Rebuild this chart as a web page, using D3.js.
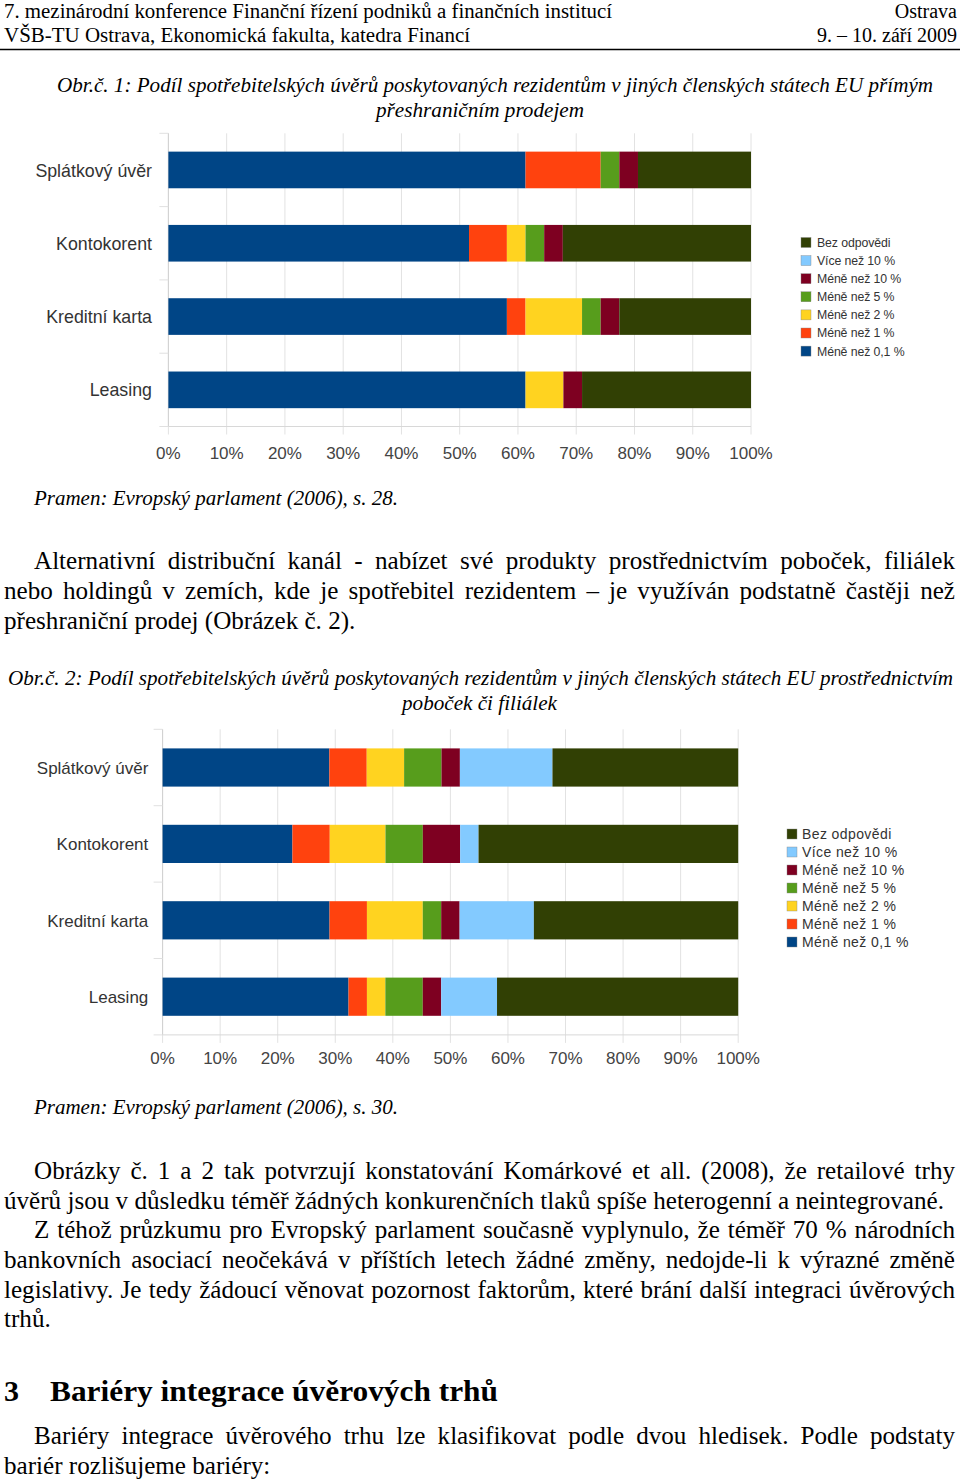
<!DOCTYPE html>
<html><head><meta charset="utf-8">
<script src="https://cdn.jsdelivr.net/npm/d3@7"></script>
<style>body{margin:0;background:#fff} svg{display:block}</style>
</head><body>
<svg id="page" width="960" height="1480"></svg>
<script>
// ---------- DATA ----------
const categories = ["Splátkový úvěr", "Kontokorent", "Kreditní karta", "Leasing"];
const seriesKeys = ["m01", "m1", "m2", "m5", "m10", "v10", "bez"];
const seriesLabels = ["Méně než 0,1 %", "Méně než 1 %", "Méně než 2 %", "Méně než 5 %", "Méně než 10 %", "Více než 10 %", "Bez odpovědi"];
const seriesColors = ["#004586", "#ff420e", "#ffd320", "#579d1c", "#7e0021", "#83caff", "#314004"];
const tickValues = [0, 10, 20, 30, 40, 50, 60, 70, 80, 90, 100];
const tickLabels = ["0%", "10%", "20%", "30%", "40%", "50%", "60%", "70%", "80%", "90%", "100%"];

// Obr. 1 – přímý přeshraniční prodej (%)
const fig1_m01 = [61.3, 51.6, 58.1, 61.3];
const fig1_m1  = [12.9, 6.5, 3.2, 0];
const fig1_m2  = [0, 3.2, 9.7, 6.5];
const fig1_m5  = [3.2, 3.2, 3.2, 0];
const fig1_m10 = [3.2, 3.2, 3.2, 3.2];
const fig1_v10 = [0, 0, 0, 0];
const fig1_bez = [19.4, 32.3, 22.6, 29.0];

// Obr. 2 – pobočky či filiálky (%)
const fig2_m01 = [29.0, 22.6, 29.0, 32.3];
const fig2_m1  = [6.5, 6.5, 6.5, 3.2];
const fig2_m2  = [6.5, 9.7, 9.7, 3.2];
const fig2_m5  = [6.5, 6.5, 3.2, 6.5];
const fig2_m10 = [3.2, 6.5, 3.2, 3.2];
const fig2_v10 = [16.1, 3.2, 12.9, 9.7];
const fig2_bez = [32.3, 45.2, 35.5, 41.9];

// ---------- HELPERS ----------
const svg = d3.select("#page");
const SERIF = "'Liberation Serif','Times New Roman',serif";
const SANS = "'Liberation Sans',Arial,sans-serif";

function rowsFrom(arrs) {
  return categories.map((c, i) => {
    const r = { cat: c };
    seriesKeys.forEach((k, j) => r[k] = arrs[j][i]);
    return r;
  });
}

function measure(str, size, style, weight) {
  const tmp = svg.append("text").attr("font-family", SERIF).attr("font-size", size)
    .attr("font-style", style || "normal").attr("font-weight", weight || "normal").text(str);
  const w = tmp.node().getComputedTextLength();
  tmp.remove();
  return w;
}

function plainText(str, o) {
  const t = svg.append("text")
    .attr("x", o.x).attr("y", o.y)
    .attr("font-family", o.family || SERIF)
    .attr("font-size", o.size)
    .attr("font-style", o.style || "normal")
    .attr("font-weight", o.weight || "normal")
    .attr("text-anchor", o.anchor || "start")
    .attr("fill", o.fill || "#000")
    .text(str);
  if (o.len) t.attr("textLength", o.len).attr("lengthAdjust", "spacingAndGlyphs");
  return t;
}

function justified(str, x0, x1, y, size) {
  const words = str.split(" ");
  const widths = words.map(w => measure(w, size));
  const gap = (x1 - x0 - d3.sum(widths)) / (words.length - 1);
  const t = svg.append("text").attr("y", y).attr("font-family", SERIF).attr("font-size", size).attr("fill", "#000");
  let x = x0;
  words.forEach((w, i) => { t.append("tspan").attr("x", x).text(w); x += widths[i] + gap; });
}

function drawChart(rows, cfg) {
  const g = svg.append("g");
  const x = d3.scaleLinear().domain([0, 1]).range([cfg.x0, cfg.x1]);
  const xp = d3.scaleLinear().domain([0, 100]).range([cfg.x0, cfg.x1]);
  const y = d3.scaleBand().domain(categories).range([cfg.y0, cfg.y1]).paddingInner(0.5).paddingOuter(0.25);
  const stack = d3.stack().keys(seriesKeys).offset(d3.stackOffsetExpand);
  const series = stack(rows);

  g.append("g").selectAll("line").data(tickValues).join("line")
    .attr("x1", d => xp(d)).attr("x2", d => xp(d))
    .attr("y1", cfg.y0).attr("y2", cfg.y1 + 8)
    .attr("stroke", "#e2e2e2").attr("stroke-width", 1);
  g.append("line").attr("x1", cfg.x0).attr("x2", cfg.x0).attr("y1", cfg.y0).attr("y2", cfg.y1)
    .attr("stroke", "#d0d0d0");
  g.append("line").attr("x1", cfg.x0).attr("x2", cfg.x1).attr("y1", cfg.y1).attr("y2", cfg.y1)
    .attr("stroke", "#d8d8d8");
  const bounds = d3.range(categories.length + 1).map(i => cfg.y0 + i * y.step());
  g.append("g").selectAll("line").data(bounds).join("line")
    .attr("x1", cfg.x0 - 9).attr("x2", cfg.x0)
    .attr("y1", d => d).attr("y2", d => d)
    .attr("stroke", "#e0e0e0");

  g.append("g").selectAll("g").data(series).join("g")
    .attr("fill", (d, i) => seriesColors[i])
    .selectAll("rect").data(d => d).join("rect")
    .attr("x", d => x(d[0]))
    .attr("width", d => Math.max(0, x(d[1]) - x(d[0])))
    .attr("y", d => y(d.data.cat))
    .attr("height", y.bandwidth());

  g.append("g").selectAll("text").data(categories).join("text")
    .attr("x", cfg.labelX).attr("y", d => y(d) + y.bandwidth() / 2)
    .attr("dy", "0.37em").attr("text-anchor", "end")
    .attr("font-family", SANS).attr("font-size", cfg.labelSize).attr("fill", "#333")
    .text(d => d);

  g.append("g").selectAll("text").data(tickValues).join("text")
    .attr("x", d => xp(d)).attr("y", cfg.tickY)
    .attr("text-anchor", "middle")
    .attr("font-family", SANS).attr("font-size", cfg.tickSize).attr("fill", "#444")
    .text((d, i) => tickLabels[i]);

  const legOrder = d3.range(seriesKeys.length).reverse();
  const lg = g.append("g");
  legOrder.forEach((si, j) => {
    const cy = cfg.legY + j * cfg.legStep;
    lg.append("rect").attr("x", cfg.legX).attr("y", cy - 5).attr("width", 10).attr("height", 10)
      .attr("fill", seriesColors[si]).attr("stroke", "#888").attr("stroke-width", 0.4);
    lg.append("text").attr("x", cfg.legX + cfg.legTextDx).attr("y", cy).attr("dy", "0.36em")
      .attr("font-family", SANS).attr("font-size", cfg.legSize)
      .attr("letter-spacing", cfg.legLS).attr("fill", "#333")
      .text(seriesLabels[si]);
  });
}

// calibrate body font size from a naturally-set (last) line of known width
const calLine = "úvěrů jsou v důsledku téměř žádných konkurenčních tlaků spíše heterogenní a neintegrované.";
const BODY = 22 * 940 / measure(calLine, 22);

// ---------- PAGE ----------
plainText("7. mezinárodní konference Finanční řízení podniků a finančních institucí", { x: 4, y: 18, size: 20, len: 608 });
plainText("Ostrava", { x: 957, y: 18, size: 20, anchor: "end" });
plainText("VŠB-TU Ostrava, Ekonomická fakulta, katedra Financí", { x: 4, y: 42, size: 20, len: 466 });
plainText("9. – 10. září 2009", { x: 957, y: 42, size: 20, anchor: "end" });
svg.append("line").attr("x1", 0).attr("x2", 960).attr("y1", 49.5).attr("y2", 49.5).attr("stroke", "#000").attr("stroke-width", 1.5);

plainText("Obr.č. 1: Podíl spotřebitelských úvěrů poskytovaných rezidentům v jiných členských státech EU přímým", { x: 57, y: 92, size: 20.5, style: "italic", len: 876 });
plainText("přeshraničním prodejem", { x: 376, y: 117, size: 20.5, style: "italic", len: 208 });

drawChart(rowsFrom([fig1_m01, fig1_m1, fig1_m2, fig1_m5, fig1_m10, fig1_v10, fig1_bez]), {
  x0: 168.4, x1: 751, y0: 133.3, y1: 426.5, labelX: 152, labelSize: 17.8, tickY: 459, tickSize: 17,
  legX: 801, legY: 242.5, legStep: 18.1, legTextDx: 16, legSize: 12.3, legLS: -0.1
});

plainText("Pramen: Evropský parlament (2006), s. 28.", { x: 34, y: 505, size: 21, style: "italic", len: 364 });

justified("Alternativní distribuční kanál - nabízet své produkty prostřednictvím poboček, filiálek", 34, 955, 569, BODY);
justified("nebo holdingů v zemích, kde je spotřebitel rezidentem – je využíván podstatně častěji než", 4, 955, 599, BODY);
plainText("přeshraniční prodej (Obrázek č. 2).", { x: 4, y: 629, size: BODY });

plainText("Obr.č. 2: Podíl spotřebitelských úvěrů poskytovaných rezidentům v jiných členských státech EU prostřednictvím", { x: 8, y: 685, size: 20.5, style: "italic", len: 945 });
plainText("poboček či filiálek", { x: 402, y: 710, size: 20.5, style: "italic", len: 155 });

drawChart(rowsFrom([fig2_m01, fig2_m1, fig2_m2, fig2_m5, fig2_m10, fig2_v10, fig2_bez]), {
  x0: 162.6, x1: 738.2, y0: 729.3, y1: 1034.9, labelX: 148.3, labelSize: 17, tickY: 1064, tickSize: 17,
  legX: 787, legY: 834, legStep: 18, legTextDx: 15, legSize: 14, legLS: 0.4
});

plainText("Pramen: Evropský parlament (2006), s. 30.", { x: 34, y: 1114, size: 21, style: "italic", len: 364 });

justified("Obrázky č. 1 a 2 tak potvrzují konstatování Komárkové et all. (2008), že retailové trhy", 34, 955, 1179, BODY);
plainText(calLine, { x: 4, y: 1209, size: BODY });
justified("Z téhož průzkumu pro Evropský parlament současně vyplynulo, že téměř 70 % národních", 34, 955, 1238, BODY);
justified("bankovních asociací neočekává v příštích letech žádné změny, nedojde-li k výrazné změně", 4, 955, 1268, BODY);
justified("legislativy. Je tedy žádoucí věnovat pozornost faktorům, které brání další integraci úvěrových", 4, 955, 1298, BODY);
plainText("trhů.", { x: 4, y: 1327, size: BODY });

plainText("3", { x: 4, y: 1401, size: 30, weight: "bold" });
plainText("Bariéry integrace úvěrových trhů", { x: 50, y: 1401, size: 30, weight: "bold", len: 448 });

justified("Bariéry integrace úvěrového trhu lze klasifikovat podle dvou hledisek. Podle podstaty", 34, 955, 1444, BODY);
plainText("bariér rozlišujeme bariéry:", { x: 4, y: 1474, size: BODY });
</script>
</body></html>
